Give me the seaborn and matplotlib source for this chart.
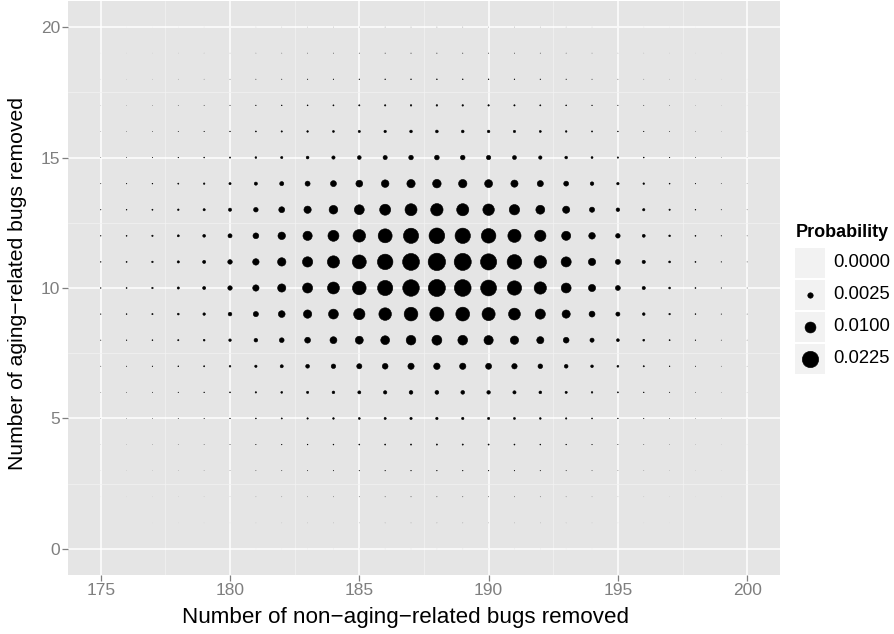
import matplotlib
matplotlib.use("Agg")
import matplotlib.pyplot as plt
from matplotlib.patches import Rectangle
import pandas as pd
import seaborn as sns

# Grid of outcomes: non-aging-related (x) and aging-related (y) bugs removed
x_values = list(range(175, 201))
y_values = list(range(0, 21))

# Joint probability, in units of 1e-4; one row per y value (0..20), columns x = 175..200
prob_e4 = [
    [0, 0, 0, 0, 0, 0, .0001, .0002, .0004, .0005, .0007, .0008, .0010, .0010, .0010, .0009, .0007, .0005, .0003, .0002, .0001, 0, 0, 0, 0, 0],
    [0, 0, .0001, .0002, .0003, .0006, .0013, .0021, .0032, .0045, .0059, .0072, .0086, .0091, .0088, .0079, .0065, .0047, .0031, .0016, .0008, .0003, .0001, 0, 0, 0],
    [.0001, .0002, .0005, .0010, .0019, .0039, .0078, .0132, .0199, .0280, .0366, .0453, .0538, .0572, .0549, .0494, .0403, .0296, .0192, .0101, .0048, .0021, .0007, .0002, .0001, 0],
    [.0005, .0011, .0025, .0053, .0101, .0210, .0426, .0717, .108, .152, .199, .247, .293, .311, .299, .269, .220, .161, .105, .055, .026, .011, .0038, .0011, .0003, .0001],
    [.0020, .0045, .0101, .0210, .0403, .0841, .170, .287, .433, .610, .797, .986, 1.17, 1.24, 1.20, 1.08, .878, .645, .419, .220, .105, .045, .015, .0045, .0011, .0003],
    [.0080, .0179, .0403, .0841, .161, .337, .681, 1.15, 1.73, 2.44, 3.19, 3.94, 4.68, 4.98, 4.78, 4.31, 3.51, 2.58, 1.67, .878, .419, .180, .060, .018, .0045, .0011],
    [.020, .044, .100, .208, .398, .831, 1.68, 2.83, 4.28, 6.02, 7.87, 9.74, 11.6, 12.3, 11.8, 10.6, 8.67, 6.37, 4.13, 2.17, 1.03, .444, .149, .044, .011, .0028],
    [.056, .125, .282, .588, 1.13, 2.35, 4.76, 8.01, 12.1, 17.0, 22.3, 27.5, 32.7, 34.8, 33.4, 30.1, 24.5, 18.0, 11.7, 6.13, 2.92, 1.26, .421, .125, .031, .0078],
    [.132, .297, .668, 1.39, 2.67, 5.58, 11.3, 19.0, 28.7, 40.4, 52.8, 65.4, 77.6, 82.5, 79.3, 71.4, 58.2, 42.8, 27.8, 14.6, 6.94, 2.98, 1.00, .297, .074, .019],
    [.267, .600, 1.35, 2.82, 5.40, 11.3, 22.8, 38.4, 58.0, 81.7, 106.7, 132.0, 156.8, 166.7, 160.0, 144.1, 117.6, 86.4, 56.1, 29.4, 14.0, 6.02, 2.02, .600, .150, .037],
    [.390, .878, 1.98, 4.12, 7.90, 16.5, 33.4, 56.2, 84.9, 119.5, 156.1, 193.2, 229.5, 243.9, 234.3, 211.0, 172.1, 126.5, 82.1, 43.0, 20.5, 8.81, 2.95, .878, .220, .055],
    [.406, .914, 2.06, 4.29, 8.23, 17.2, 34.8, 58.5, 88.4, 124.5, 162.6, 201.2, 239.0, 254.0, 243.9, 219.7, 179.2, 131.7, 85.4, 44.8, 21.4, 9.17, 3.07, .914, .229, .057],
    [.329, .741, 1.67, 3.48, 6.67, 13.9, 28.2, 47.4, 71.6, 100.8, 131.7, 163.0, 193.6, 205.7, 197.6, 177.9, 145.2, 106.7, 69.2, 36.3, 17.3, 7.43, 2.49, .741, .185, .046],
    [.205, .461, 1.04, 2.16, 4.15, 8.66, 17.5, 29.5, 44.6, 62.7, 81.9, 101.4, 120.5, 128.0, 123.0, 110.7, 90.3, 66.4, 43.1, 22.6, 10.8, 4.62, 1.55, .461, .115, .029],
    [.098, .220, .494, 1.03, 1.98, 4.12, 8.35, 14.1, 21.2, 29.9, 39.0, 48.3, 57.4, 61.0, 58.6, 52.8, 43.0, 31.6, 20.5, 10.8, 5.13, 2.20, .738, .220, .055, .014],
    [.030, .067, .150, .313, .600, 1.25, 2.54, 4.27, 6.45, 9.07, 11.9, 14.7, 17.4, 18.5, 17.8, 16.0, 13.1, 9.60, 6.23, 3.27, 1.56, .669, .224, .067, .017, .0042],
    [.0104, .0234, .0527, .110, .211, .440, .890, 1.50, 2.26, 3.19, 4.16, 5.15, 6.12, 6.50, 6.24, 5.62, 4.59, 3.37, 2.19, 1.15, .547, .235, .079, .023, .0059, .0015],
    [.0033, .0074, .0167, .0348, .0666, .139, .282, .474, .716, 1.01, 1.32, 1.63, 1.94, 2.06, 1.98, 1.78, 1.45, 1.07, .692, .363, .173, .074, .025, .0074, .0019, .0005],
    [.0008, .0019, .0042, .0087, .0167, .0348, .0704, .119, .179, .252, .329, .407, .484, .514, .494, .445, .363, .267, .173, .091, .043, .019, .0062, .0019, .0005, .0001],
    [.0002, .0004, .0008, .0017, .0033, .0069, .0139, .0234, .0354, .0498, .0650, .0805, .0956, .102, .0976, .0879, .0717, .0527, .0342, .0179, .0085, .0037, .0012, .0004, .0001, 0],
    [0, .0001, .0001, .0003, .0005, .0011, .0022, .0037, .0057, .0080, .0104, .0129, .0153, .0163, .0156, .0141, .0115, .0084, .0055, .0029, .0014, .0006, .0002, .0001, 0, 0],
]

x_ticks = [175, 180, 185, 190, 195, 200]
y_ticks = [0, 5, 10, 15, 20]
legend_breaks = [0.0, 0.0025, 0.0100, 0.0225]
legend_labels = ["0.0000", "0.0025", "0.0100", "0.0225"]

records = []
for yv, row in zip(y_values, prob_e4):
    for xv, p in zip(x_values, row):
        records.append((xv, yv, p * 1e-4))
df = pd.DataFrame(records, columns=["non_aging", "aging", "prob"])

# Point area proportional to probability (pt^2 per unit probability),
# plus a thin outline so that near-zero cells still leave a faint dot
AREA_PER_PROB = 6209.0
EDGE_LW = 0.4
vmax = df["prob"].max()

sns.set_theme(style="darkgrid", rc={
    "axes.facecolor": "#E5E5E5",
    "figure.facecolor": "white",
    "grid.color": "white",
})
plt.rcParams["font.family"] = ["Liberation Sans", "DejaVu Sans"]

W, H = 895, 634
fig = plt.figure(figsize=(W / 100, H / 100), dpi=100)
left, right, top, bottom = 68.4, 779.5, 1.0, 575.0
ax = fig.add_axes([left / W, (H - bottom) / H, (right - left) / W, (bottom - top) / H])

sns.scatterplot(
    data=df, x="non_aging", y="aging", size="prob",
    sizes=(0, AREA_PER_PROB * vmax), size_norm=(0, vmax),
    color="black", edgecolor="black", linewidth=EDGE_LW, legend=False, ax=ax,
)

ax.set_xlim(173.75, 201.25)
ax.set_ylim(-1, 21)
ax.set_xticks(x_ticks)
ax.set_yticks(y_ticks)
ax.set_xticks([177.5, 182.5, 187.5, 192.5, 197.5], minor=True)
ax.set_yticks([2.5, 7.5, 12.5, 17.5], minor=True)
ax.grid(which="major", color="white", linewidth=1.1)
ax.grid(which="minor", color="#F2F2F2", linewidth=0.55)
ax.set_axisbelow(True)
for s in ax.spines.values():
    s.set_visible(False)
ax.tick_params(which="major", length=4, width=0.9, color="#7F7F7F",
               labelcolor="#7F7F7F", labelsize=12.5, pad=2,
               bottom=True, left=True)
ax.tick_params(which="minor", length=0)

pw, ph = right - left, bottom - top
ax.set_xlabel("Number of non\u2212aging\u2212related bugs removed", fontsize=16.1,
              color="black", va="center", ha="center")
ax.xaxis.set_label_coords((406 - left) / pw, (bottom - 617) / ph)
ax.set_ylabel("Number of aging\u2212related bugs removed", fontsize=15.2,
              color="black", va="center", ha="center")
ax.yaxis.set_label_coords((18 - left) / pw, (bottom - 284) / ph)

# Size legend drawn in its own pixel-based frame
lax = fig.add_axes([785 / W, (H - 380) / H, 110 / W, 170 / H])
lax.set_xlim(785, 895)
lax.set_ylim(380, 210)
lax.axis("off")
lax.text(796, 233, "Probability", fontsize=13, fontweight="bold",
         ha="left", va="center", color="black")
for i, (b, lab) in enumerate(zip(legend_breaks, legend_labels)):
    cy = 263 + 32 * i
    lax.add_patch(Rectangle((795, cy - 15), 30, 30, facecolor="#F2F2F2",
                            edgecolor="none"))
    lax.scatter([810], [cy], s=AREA_PER_PROB * b, color="black",
                edgecolor="black", linewidth=EDGE_LW)
    lax.text(833, cy, lab, fontsize=13.3, ha="left", va="center", color="black")

fig.savefig("out.png", dpi=100)
